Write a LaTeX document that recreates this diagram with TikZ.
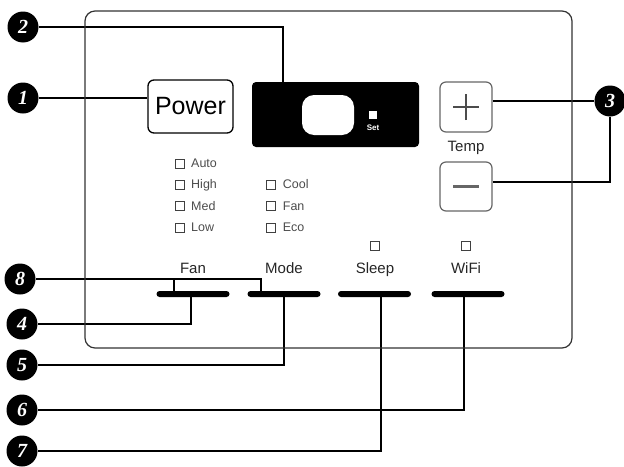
\documentclass[tikz,border=0pt]{standalone}
\usepackage{fontspec}
\setmainfont{Liberation Sans}
\newfontfamily\numfont{Liberation Serif}
\pgfdeclarelayer{bg}
\pgfsetlayers{bg,main}
\begin{document}
\begin{tikzpicture}[x=1pt,y=-1pt,
  callout/.style={circle,fill=black,minimum size=31pt,inner sep=0pt,text=white,font=\fontsize{20}{20}\selectfont\numfont\bfseries\itshape},
  conn/.style={line width=1.4pt,black},
  bar/.style={fill=black,rounded corners=3pt,minimum width=73pt,minimum height=6pt,inner sep=0pt},
  ind/.style={font=\fontsize{12.5}{12.5}\selectfont,text=black!70,anchor=base west,inner sep=0pt},
  lamp/.style={draw=black!75,line width=0.8pt,minimum size=9pt,inner sep=0pt},
  lbl/.style={font=\fontsize{15}{15}\selectfont,text=black!85,anchor=base,inner sep=0pt},
  btn/.style={draw=black!60,line width=1.2pt,rounded corners=6pt,minimum width=52pt,minimum height=50pt,inner sep=0pt}]
\useasboundingbox (0,0) rectangle (624,466);

% panel
\node[draw=black!80,line width=1.2pt,rounded corners=10pt,minimum width=487pt,minimum height=337pt,inner sep=0pt] (panel) at (328.5,179.5) {};

% power
\node[draw,fill=white,line width=1.3pt,rounded corners=6pt,minimum width=85pt,minimum height=53pt,inner sep=0pt,font=\fontsize{25}{25}\selectfont] (power) at (190.5,106.5) {Power};

% display
\node[fill=black,rounded corners=4pt,minimum width=167pt,minimum height=65pt,inner sep=0pt] (display) at (335.5,114.5) {};
\node[fill=white,rounded corners=12pt,minimum width=52pt,minimum height=40pt,inner sep=0pt] (screen) at (328,115) {};
\node[fill=white,minimum width=8pt,minimum height=8pt,inner sep=0pt] (setsq) at (372.5,114.5) {};
\node[text=white,font=\fontsize{8}{8}\selectfont\bfseries,anchor=base,inner sep=0pt] (setlbl) at (373,130.5) {Set};
\coordinate (d2) at (283,110);

% temp buttons
\node[btn] (plus) at (466,107) {};
\node[btn,minimum height=49pt] (minus) at (466,186.5) {};
\draw[line width=2pt,black!70] ([xshift=-13pt]plus.center) -- ([xshift=13pt]plus.center);
\draw[line width=2pt,black!70] ([yshift=-13pt]plus.center) -- ([yshift=13pt]plus.center);
\draw[line width=3pt,black!60] ([xshift=-13pt]minus.center) -- ([xshift=13pt]minus.center);
\node[lbl] (temp) at (466,151.7) {Temp};

% indicators fan
\node[lamp] (la) at (180,163.8) {};
\node[ind] (ta) at (191,167.8) {Auto};
\node[lamp] (lh) at (180,184.8) {};
\node[ind] (th) at (191,188.8) {High};
\node[lamp] (lm) at (180,206) {};
\node[ind] (tm) at (191,210) {Med};
\node[lamp] (ll) at (180,227.8) {};
\node[ind] (tl) at (191,231.8) {Low};
% indicators mode
\node[lamp] (lc) at (271.3,184.8) {};
\node[ind] (tc) at (282.7,188.8) {Cool};
\node[lamp] (lf) at (271.3,206) {};
\node[ind] (tf) at (282.7,210) {Fan};
\node[lamp] (le) at (271.3,227.8) {};
\node[ind] (te) at (282.7,231.8) {Eco};
% sleep / wifi lamps
\node[lamp] (ls) at (375,245.8) {};
\node[lamp] (lw) at (466,245.8) {};

% labels
\node[lbl] (fanlbl) at (193,273) {Fan};
\node[lbl] (modelbl) at (284,273) {Mode};
\node[lbl] (sleeplbl) at (375,273) {Sleep};
\node[lbl] (wifilbl) at (466,273) {WiFi};

% bars
\node[bar] (fanbar) at (193,294) {};
\node[bar] (modebar) at (284,294) {};
\node[bar] (sleepbar) at (374.5,294) {};
\node[bar] (wifibar) at (468,294) {};

% callouts
\node[callout] (c1) at (23,98) {1};
\node[callout] (c2) at (23,27) {2};
\node[callout] (c3) at (610,101) {3};
\node[callout] (c8) at (20,279) {8};
\node[callout] (c4) at (22,324) {4};
\node[callout] (c5) at (22,365) {5};
\node[callout] (c6) at (22,410) {6};
\node[callout] (c7) at (22,451) {7};

% connectors
\begin{pgfonlayer}{bg}
\draw[conn] (c1) -- (c1 -| power.west);
\draw[conn] (c2) -| (d2);
\draw[conn] (c3) -- (c3 -| plus.east);
\draw[conn] (c3) |- ([yshift=4.5pt]minus.east);
\draw[conn] (c8) -| ([xshift=-23pt]modebar.north);
\draw[conn] ([xshift=-19pt]fanbar.north) -- ([xshift=-19pt]fanbar.north |- c8);
\draw[conn] (c4) -| ([xshift=-2pt]fanbar.south);
\draw[conn] (c5) -| (modebar.south);
\draw[conn] (c6) -| ([xshift=-4pt]wifibar.south);
\draw[conn] (c7) -| ([xshift=6.5pt]sleepbar.south);
\end{pgfonlayer}
\end{tikzpicture}
\end{document}
